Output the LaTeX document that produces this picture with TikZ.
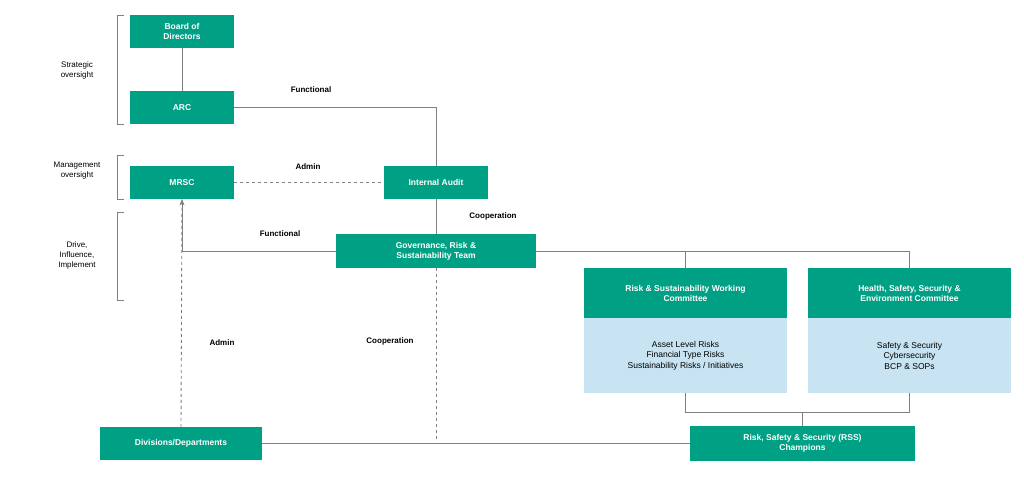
\documentclass[tikz,border=0pt]{standalone}
\usepackage{fontspec}
\setmainfont{Liberation Sans}
\usetikzlibrary{arrows.meta}
\definecolor{teal1}{RGB}{0,160,132}
\definecolor{paleblue}{RGB}{200,228,243}
\definecolor{linegray}{RGB}{128,128,128}
\tikzset{
  unit/.style={fill=teal1,text=white,font=\fontsize{8.5}{10}\selectfont\bfseries,align=center,inner sep=0pt},
  body/.style={fill=paleblue,font=\fontsize{8.5}{10.5}\selectfont,align=center,inner sep=0pt},
  link/.style={draw=linegray,line width=0.9pt},
  dlink/.style={draw=linegray,line width=0.9pt,dashed},
  lab/.style={font=\fontsize{8}{10}\selectfont\bfseries},
  side/.style={font=\fontsize{8}{10}\selectfont,align=center}
}
\begin{document}
\begin{tikzpicture}[x=1pt,y=-1pt]
\useasboundingbox (0,0) rectangle (1024,481);
% boxes
\node[unit,minimum width=104pt,minimum height=33pt] (BOD) at (182,31.5) {Board of\\Directors};
\node[unit,minimum width=104pt,minimum height=33pt] (ARC) at (182,107.5) {ARC};
\node[unit,minimum width=104pt,minimum height=33pt] (MRSC) at (182,182.5) {MRSC};
\node[unit,minimum width=104pt,minimum height=33pt] (IA) at (436,182.5) {Internal Audit};
\node[unit,minimum width=200pt,minimum height=34pt] (GRS) at (436,251) {Governance, Risk \&\\Sustainability Team};
\node[unit,minimum width=203pt,minimum height=50pt] (RSW) at (685.5,293) {Risk \& Sustainability Working\\Committee};
\node[body,minimum width=203pt,minimum height=75pt] (RSWb) at (685.5,355.5) {Asset Level Risks\\Financial Type Risks\\Sustainability Risks / Initiatives};
\node[unit,minimum width=203pt,minimum height=50pt] (HSE) at (909.5,293) {Health, Safety, Security \&\\Environment Committee};
\node[body,minimum width=203pt,minimum height=75pt] (HSEb) at (909.5,355.5) {Safety \& Security\\Cybersecurity\\BCP \& SOPs};
\node[unit,minimum width=162pt,minimum height=33pt] (DIV) at (181,443.5) {Divisions/Departments};
\node[unit,minimum width=225pt,minimum height=35pt] (RSS) at (802.5,443.5) {Risk, Safety \& Security (RSS)\\Champions};
\coordinate (j1) at (685.5,412);
\coordinate (j2) at (909.5,412);
\coordinate (cend) at (436,440);
% connectors
\draw[link] (BOD) -- (ARC);
\draw[link] (ARC.east) -- (436,107.5) -- (IA.north);
\draw[dlink] (MRSC) -- (IA);
\draw[link] (IA) -- (GRS);
\draw[link,-{Stealth[length=6pt]}] (GRS.west) -- (182,251) -- (MRSC.south);
\draw[link] (GRS.east) -- (909.5,251) -- (HSE.north);
\draw[link] (685.5,251) -- (RSW.north);
\draw[dlink,-{Stealth[length=6pt]}] (DIV.north) -- (MRSC.south);
\draw[dlink] (GRS.south) -- (cend);
\draw[link] (DIV.east) -- (RSS.west);
\draw[link] (RSWb.south) -- (j1) -- (j2) -- (HSEb.south);
\draw[link] (802.5,412) -- (RSS.north);
% labels
\node[lab] (l1) at (311,90) {Functional};
\node[lab] (l2) at (308,167) {Admin};
\node[lab] (l3) at (493,216) {Cooperation};
\node[lab] (l4) at (280,234) {Functional};
\node[lab] (l5) at (222,343) {Admin};
\node[lab] (l6) at (390,341) {Cooperation};
% brackets
\draw[link,line width=0.6pt] (124,15) -- (117,15) -- (117,124) -- (124,124);
\draw[link,line width=0.6pt] (124,155) -- (117,155) -- (117,199) -- (124,199);
\draw[link,line width=0.6pt] (124,212) -- (117,212) -- (117,300) -- (124,300);
\node[side] (s1) at (77,70) {Strategic\\oversight};
\node[side] (s2) at (77,171) {Management\\oversight};
\node[side] (s3) at (77,255) {Drive,\\Influence,\\Implement};
\end{tikzpicture}
\end{document}
